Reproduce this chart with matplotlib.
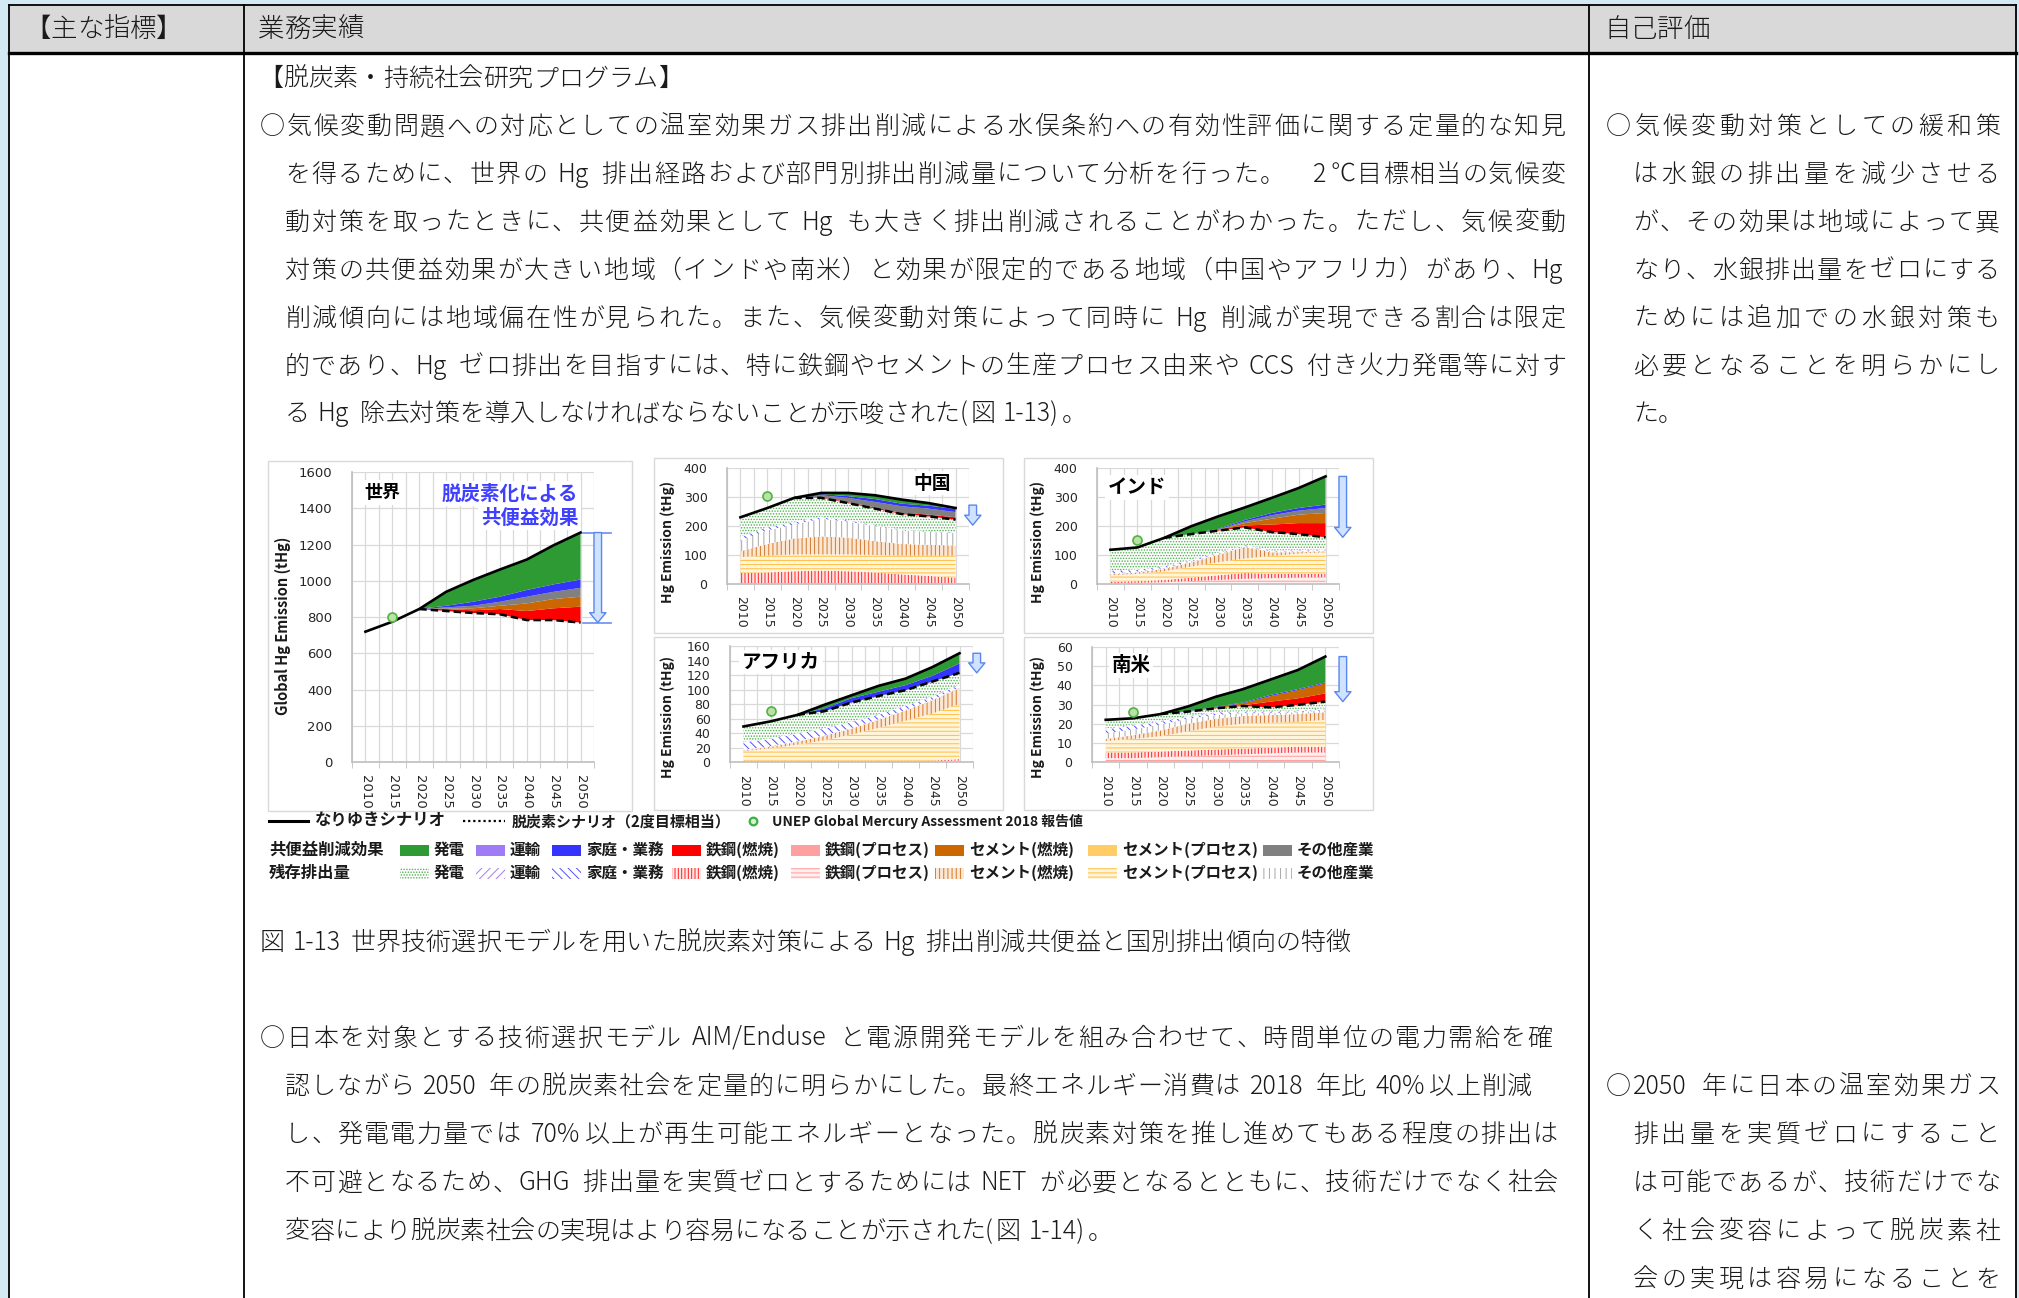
import re
import numpy as np
import matplotlib
matplotlib.use('Agg')
import matplotlib.pyplot as plt
from matplotlib.patches import Rectangle, FancyArrowPatch
from matplotlib.font_manager import FontProperties

plt.rcParams['font.family'] = ['Noto Sans CJK JP', 'DejaVu Sans']
plt.rcParams['hatch.linewidth'] = 0.7

W, H, DPI = 2019, 1298, 100

# ---------------- data (tHg) ----------------
years = [2010, 2015, 2020, 2025, 2030, 2035, 2040, 2045, 2050]
unep_year = 2015

world_bau = [719, 774, 844, 939, 1004, 1062, 1117, 1196, 1266]
world_2deg = [719, 774, 844, 833, 822, 815, 783, 783, 769]
world_unep = 800
world_cobenefit = {
    '鉄鋼(燃焼)': [0, 0, 0, 11, 15, 29, 50, 65, 88],
    'セメント(燃焼)': [0, 0, 0, 2, 11, 18, 42, 51, 55],
    'その他産業': [0, 0, 0, 7, 14, 22, 37, 40, 49],
    '家庭・業務': [0, 0, 0, 9, 22, 28, 37, 41, 46],
}

china_bau = [230, 262, 297, 314, 314, 306, 291, 279, 262]
china_2deg = [230, 262, 297, 297, 279, 260, 241, 233, 222]
china_unep = 302
china_arrow = [272, 203]
china_cobenefit = {
    '鉄鋼(燃焼)': [0, 0, 0, 2, 3, 4, 4, 6, 8],
    'その他産業': [0, 0, 0, 7, 15, 19, 23, 21, 18],
    '家庭・業務': [0, 0, 0, 4, 6, 10, 9, 10, 11],
}
china_residual = {
    '鉄鋼(プロセス)': [3, 3, 3, 3, 3, 3, 3, 3, 3],
    '鉄鋼(燃焼)': [35, 37, 41, 43, 41, 37, 30, 25, 19],
    'セメント(プロセス)': [55, 58, 58, 56, 58, 60, 65, 70, 75],
    'セメント(燃焼)': [20, 40, 55, 62, 58, 48, 40, 37, 36],
    'その他産業': [37, 47, 48, 61, 55, 52, 47, 45, 43],
    '家庭・業務': [12, 10, 8, 6, 4, 3, 2, 2, 2],
    '運輸': [2, 2, 2, 2, 1, 1, 1, 1, 1],
}

india_bau = [118, 126, 159, 199, 233, 264, 297, 331, 371]
india_2deg = [118, 126, 159, 172, 184, 195, 179, 172, 161]
india_unep = 150
india_cobenefit = {
    '鉄鋼(燃焼)': [0, 0, 0, 0, 2, 7, 26, 38, 49],
    'セメント(燃焼)': [0, 0, 0, 0, 1, 8, 20, 29, 35],
    'その他産業': [0, 0, 0, 0, 1, 6, 12, 14, 17],
    '家庭・業務': [0, 0, 0, 1, 2, 5, 8, 9, 12],
}
india_residual = {
    '鉄鋼(プロセス)': [3, 4, 6, 10, 14, 18, 20, 22, 24],
    '鉄鋼(燃焼)': [5, 6, 8, 12, 16, 20, 15, 13, 11],
    'セメント(プロセス)': [22, 25, 30, 38, 45, 50, 62, 70, 75],
    'セメント(燃焼)': [3, 5, 8, 15, 25, 40, 12, 5, 3],
    'その他産業': [3, 3, 3, 3, 3, 3, 3, 3, 3],
    '家庭・業務': [8, 6, 5, 4, 3, 3, 2, 2, 2],
    '運輸': [2, 2, 2, 2, 2, 2, 2, 2, 2],
}

africa_bau = [49, 56, 65, 79, 92, 105, 115, 131, 150]
africa_2deg = [49, 56, 65, 70, 82, 91, 99, 111, 123]
africa_unep = 70
africa_cobenefit = {
    '家庭・業務': [0, 0, 0, 4, 6, 6, 7, 8, 13],
}
africa_residual = {
    '鉄鋼(プロセス)': [1, 1, 1, 1, 1, 1, 1, 1, 2],
    '鉄鋼(燃焼)': [1, 1, 1, 1, 1, 1, 1, 1, 2],
    'セメント(プロセス)': [13, 17, 22, 28, 36, 45, 55, 65, 76],
    'セメント(燃焼)': [1, 2, 4, 6, 8, 11, 14, 18, 22],
    'その他産業': [1, 1, 1, 1, 1, 1, 1, 1, 1],
    '家庭・業務': [10, 10, 10, 9, 8, 6, 5, 4, 3],
    '運輸': [1, 1, 1, 1, 1, 1, 1, 1, 1],
}

samerica_bau = [22, 22.8, 25, 29, 34, 38, 43, 48, 55]
samerica_2deg = [22, 22.8, 25, 26.3, 28, 29.2, 28.5, 29.8, 31.5]
samerica_unep = 26
samerica_cobenefit = {
    '鉄鋼(燃焼)': [0, 0, 0, 0, 0.3, 0.4, 3.0, 3.4, 4.3],
    'セメント(燃焼)': [0, 0, 0, 0, 0.2, 1.0, 2.9, 4.3, 5.2],
    '家庭・業務': [0, 0, 0, 0.2, 0.3, 0.4, 0.6, 0.5, 0.5],
}
samerica_residual = {
    '鉄鋼(プロセス)': [2, 2, 2.5, 3, 3.5, 4, 4.5, 5, 5],
    '鉄鋼(燃焼)': [3, 3, 3, 3, 3, 3, 3, 3, 3],
    'セメント(プロセス)': [6, 7, 8, 10, 12, 13, 13, 13, 14],
    'セメント(燃焼)': [1, 2, 3, 4, 4, 4, 4, 4, 4],
    'その他産業': [3, 3, 3, 2.5, 2, 1.5, 1, 1, 1],
    '家庭・業務': [2, 2, 1.5, 1, 1, 0.5, 0.5, 0.5, 0.5],
    '運輸': [0.5, 0.5, 0.5, 0.5, 0.5, 0.5, 0.5, 0.5, 0.5],
}

sectors = ['発電', '運輸', '家庭・業務', '鉄鋼(燃焼)', '鉄鋼(プロセス)',
           'セメント(燃焼)', 'セメント(プロセス)', 'その他産業']
solid_colors = ['#2e9a34', '#9f7cf5', '#3434ff', '#ff0000', '#ffa0a0',
                '#cc6600', '#ffcc66', '#808080']
hatches = ['......', '////', '\\\\\\\\', '|||||', '----', '||||', '----', '|||']
hatch_colors = ['#4fb04f', '#9f7cf5', '#5050ff', '#ff2020', '#ff9a9a',
                '#d2782a', '#ffbf40', '#a6a6a6']
hatch_faces = ['white', 'white', 'white', '#ffe6e6', '#fff0f0',
               '#fbe7d4', '#fff4dc', 'white']
residual_order = ['鉄鋼(プロセス)', '鉄鋼(燃焼)', 'セメント(プロセス)', 'セメント(燃焼)',
                  'その他産業', '家庭・業務', '運輸']
cobenefit_order = ['鉄鋼(燃焼)', '鉄鋼(プロセス)', 'セメント(燃焼)', 'セメント(プロセス)',
                   'その他産業', '家庭・業務', '運輸']

# ---------------- document text ----------------
header_texts = ['【主な指標】', '業務実績', '自己評価']
program_title = '【脱炭素・持続社会研究プログラム】'
para1 = [
    '○気候変動問題への対応としての温室効果ガス排出削減による水俣条約への有効性評価に関する定量的な知見',
    'を得るために、世界の Hg 排出経路および部門別排出削減量について分析を行った。　2℃目標相当の気候変',
    '動対策を取ったときに、共便益効果として Hg も大きく排出削減されることがわかった。ただし、気候変動',
    '対策の共便益効果が大きい地域（インドや南米）と効果が限定的である地域（中国やアフリカ）があり、Hg',
    '削減傾向には地域偏在性が見られた。また、気候変動対策によって同時に Hg 削減が実現できる割合は限定',
    '的であり、Hg ゼロ排出を目指すには、特に鉄鋼やセメントの生産プロセス由来や CCS 付き火力発電等に対す',
    'る Hg 除去対策を導入しなければならないことが示唆された(図 1-13)。',
]
eval1 = ['○気候変動対策としての緩和策', 'は水銀の排出量を減少させる', 'が、その効果は地域によって異',
         'なり、水銀排出量をゼロにする', 'ためには追加での水銀対策も', '必要となることを明らかにし', 'た。']
caption = '図 1-13 世界技術選択モデルを用いた脱炭素対策による Hg 排出削減共便益と国別排出傾向の特徴'
para2 = [
    '○日本を対象とする技術選択モデル AIM/Enduse と電源開発モデルを組み合わせて、時間単位の電力需給を確',
    '認しながら 2050 年の脱炭素社会を定量的に明らかにした。最終エネルギー消費は 2018 年比 40%以上削減',
    'し、発電電力量では 70%以上が再生可能エネルギーとなった。脱炭素対策を推し進めてもある程度の排出は',
    '不可避となるため、GHG 排出量を実質ゼロとするためには NET が必要となるとともに、技術だけでなく社会',
    '変容により脱炭素社会の実現はより容易になることが示された(図 1-14)。',
]
eval2 = ['○2050 年に日本の温室効果ガス', '排出量を実質ゼロにすること', 'は可能であるが、技術だけでな',
         'く社会変容によって脱炭素社', '会の実現は容易になることを']

# ---------------- figure / page ----------------
fig = plt.figure(figsize=(W / DPI, H / DPI), dpi=DPI, facecolor='#d3e9f4')
page = fig.add_axes([0, 0, 1, 1])
page.set_xlim(0, W)
page.set_ylim(H, 0)
page.axis('off')
renderer = fig.canvas.get_renderer()

page.add_patch(Rectangle((9, 5), 2007, H, facecolor='white', edgecolor='none'))
page.add_patch(Rectangle((9, 5), 2007, 48, facecolor='#d9d9d9', edgecolor='none'))
for x in [9, 244, 1589, 2016]:
    page.plot([x, x], [5, H], color='black', lw=1.3)
page.plot([9, 2016], [5, 5], color='black', lw=1.3)
page.plot([9, 2016], [53, 53], color='black', lw=2.4)


def text_line(s, x0, y, x1=None, size=18, color='#1a1a1a', weight='light'):
    """Draw one line of text, optionally justified between x0 and x1 (pixels)."""
    fp = FontProperties(family=['Noto Sans CJK JP', 'DejaVu Sans'], size=size, weight=weight)
    em = size * DPI / 72
    units = re.findall(r'[!-~]+| |.', s)
    widths = []
    for u in units:
        if u == ' ':
            widths.append(0.3 * em)
        elif u.isascii():
            w, _, _ = renderer.get_text_width_height_descent(u, fp, ismath=False)
            widths.append(w + 0.12 * em)
        else:
            widths.append(em)
    gap = 0
    if x1 is not None and len(units) > 1:
        gap = (x1 - x0 - sum(widths)) / (len(units) - 1)
    x = x0
    for u, w in zip(units, widths):
        if u != ' ':
            page.text(x, y, u, fontproperties=fp, color=color, ha='left', va='baseline')
        x += w + gap


# header
text_line(header_texts[0], 24, 37, size=19)
text_line(header_texts[1], 258, 37, size=19)
text_line(header_texts[2], 1604, 37, size=19)

text_line(program_title, 258, 86)
line_y = [125 + 47.9 * i for i in range(7)]
for i, s in enumerate(para1):
    x0 = 260 if i == 0 else 285
    text_line(s, x0, line_y[i] + 9, 1566 if i < 6 else None)
for i, s in enumerate(eval1):
    x0 = 1606 if i == 0 else 1633
    text_line(s, x0, line_y[i] + 9, 2000 if i < 6 else None)

text_line(caption, 260, 950)
p2_y = [1036.5 + 48.3 * i for i in range(6)]
p2_right = [1552, 1532, 1558, 1558, None]
for i, s in enumerate(para2):
    x0 = 260 if i == 0 else 285
    text_line(s, x0, p2_y[i] + 9, p2_right[i])
for i, s in enumerate(eval2):
    x0 = 1606 if i == 0 else 1633
    text_line(s, x0, p2_y[i + 1] + 9, 2000)

# chart frames
for (fx0, fy0, fx1, fy1) in [(268, 461, 632, 811), (654, 458, 1003, 633), (1024, 458, 1373, 633),
                             (654, 637, 1003, 810), (1024, 637, 1373, 810)]:
    page.add_patch(Rectangle((fx0, fy0), fx1 - fx0, fy1 - fy0, facecolor='none',
                             edgecolor='#d9d9d9', lw=1.0))


# ---------------- charts ----------------
def make_chart(box, ymax, ystep, ylabel, label_x, label_y, size, label_size):
    x0, y0, x1, y1 = box
    ax = fig.add_axes([x0 / W, 1 - y1 / H, (x1 - x0) / W, (y1 - y0) / H])
    ax.set_xlim(2007.5, 2052.5)
    ax.set_ylim(0, ymax)
    ax.set_yticks(np.arange(0, ymax + 1, ystep))
    ax.set_xticks(years)
    ax.set_xticklabels([str(y) for y in years], rotation=-90)
    ax.set_xticks(np.arange(2007.5, 2053, 2.5), minor=True)
    ax.set_axisbelow(True)
    ax.grid(True, which='both', axis='x', color='#d9d9d9', lw=0.9)
    ax.grid(True, which='major', axis='y', color='#d9d9d9', lw=0.9)
    ax.tick_params(axis='x', which='major', length=0, pad=9, labelsize=size,
                   labelcolor='#262626', labelfontfamily='DejaVu Sans')
    ax.tick_params(axis='x', which='minor', length=4, color='#bfbfbf')
    ax.tick_params(axis='y', length=0, pad=14, labelsize=size,
                   labelcolor='#262626', labelfontfamily='DejaVu Sans')
    for side in ['top', 'right']:
        ax.spines[side].set_visible(False)
    for side in ['left', 'bottom']:
        ax.spines[side].set_color('#bfbfbf')
        ax.spines[side].set_linewidth(1.2)
    ax.text(label_x, label_y, ylabel, transform=ax.transAxes, rotation=90,
            ha='center', va='center', fontsize=label_size, fontweight='bold', color='#1a1a1a')
    return ax


def draw_region(ax, bau, deg2, cobenefit, residual, unep, arrow_span=None):
    yrs = np.array(years, float)
    bau = np.array(bau, float)
    deg2 = np.array(deg2, float)
    if residual is not None:
        base = np.zeros(len(yrs))
        for name in residual_order:
            if name in residual:
                k = sectors.index(name)
                top = base + np.array(residual[name], float)
                ax.fill_between(yrs, base, top, facecolor=hatch_faces[k],
                                edgecolor=hatch_colors[k], hatch=hatches[k], linewidth=0)
                base = top
        ax.fill_between(yrs, base, deg2, facecolor=hatch_faces[0],
                        edgecolor=hatch_colors[0], hatch=hatches[0], linewidth=0)
    base = deg2.copy()
    for name in cobenefit_order:
        if name in cobenefit:
            k = sectors.index(name)
            top = base + np.array(cobenefit[name], float)
            ax.fill_between(yrs, base, top, facecolor=solid_colors[k], linewidth=0)
            base = top
    ax.fill_between(yrs, base, bau, facecolor=solid_colors[0], linewidth=0)
    ax.plot(yrs[2:], deg2[2:], color='black', lw=1.8, linestyle=(0, (3, 1.6)))
    ax.plot(yrs, bau, color='black', lw=1.9)
    ax.plot([unep_year], [unep], 'o', ms=6.5, mfc='#b9e3a6', mec='#55b045', mew=1.2)
    a_top, a_bot = (bau[-1], deg2[-1]) if arrow_span is None else arrow_span
    arrow = FancyArrowPatch((2053.2, a_top), (2053.2, a_bot),
                            arrowstyle='simple,head_width=0.9,head_length=0.55,tail_width=0.42',
                            mutation_scale=13, facecolor='#cfe3ff', edgecolor='#5b86f0',
                            lw=1.0, clip_on=False, shrinkA=0, shrinkB=0, zorder=5)
    ax.add_patch(arrow)
    return bau, deg2


title_kw = dict(fontweight='bold', color='black', va='center',
                bbox=dict(facecolor='white', edgecolor='none', pad=2))

ax_w = make_chart((352, 472, 594, 762), 1600, 200, 'Global Hg Emission (tHg)', -0.285, 0.47, 9.5, 10.5)
bau_w, deg_w = draw_region(ax_w, world_bau, world_2deg, world_cobenefit, None, world_unep)
for yv in [bau_w[-1], deg_w[-1]]:
    ax_w.plot([2050.5, 2055.6], [yv, yv], color='#6a8ff0', lw=1.2, clip_on=False)
ax_w.text(0.05, 0.93, '世界', transform=ax_w.transAxes, ha='left', fontsize=13, **title_kw)
blue_kw = dict(title_kw)
blue_kw['color'] = '#3f3fff'
ax_w.text(0.935, 0.925, '脱炭素化による', transform=ax_w.transAxes, ha='right', fontsize=14, **blue_kw)
ax_w.text(0.935, 0.842, '共便益効果', transform=ax_w.transAxes, ha='right', fontsize=14, **blue_kw)

ax_c = make_chart((727, 468, 969, 584), 400, 100, 'Hg Emission (tHg)', -0.244, 0.36, 9, 10)
draw_region(ax_c, china_bau, china_2deg, china_cobenefit, china_residual, china_unep, china_arrow)
ax_c.text(0.77, 0.87, '中国', transform=ax_c.transAxes, ha='left', fontsize=13.5, **title_kw)

ax_i = make_chart((1097, 468, 1339, 584), 400, 100, 'Hg Emission (tHg)', -0.244, 0.36, 9, 10)
draw_region(ax_i, india_bau, india_2deg, india_cobenefit, india_residual, india_unep)
ax_i.text(0.045, 0.83, 'インド', transform=ax_i.transAxes, ha='left', fontsize=14, **title_kw)

ax_a = make_chart((730, 646, 973, 762), 160, 20, 'Hg Emission (tHg)', -0.255, 0.39, 9, 10)
draw_region(ax_a, africa_bau, africa_2deg, africa_cobenefit, africa_residual, africa_unep)
ax_a.text(0.05, 0.86, 'アフリカ', transform=ax_a.transAxes, ha='left', fontsize=14, **title_kw)

ax_s = make_chart((1092, 647, 1339, 762), 60, 10, 'Hg Emission (tHg)', -0.219, 0.39, 9, 10)
draw_region(ax_s, samerica_bau, samerica_2deg, samerica_cobenefit, samerica_residual, samerica_unep)
ax_s.text(0.08, 0.84, '南米', transform=ax_s.transAxes, ha='left', fontsize=14, **title_kw)

# ---------------- figure legend ----------------
leg_kw = dict(fontsize=11.2, fontweight='bold', color='#1a1a1a', va='center', ha='left')
page.plot([269, 308], [821, 821], color='black', lw=2.2)
page.text(315, 821, 'なりゆきシナリオ', **dict(leg_kw, fontsize=11.8))
page.plot([463, 505], [821, 821], color='black', lw=1.6, linestyle=(0, (1, 1.3)))
page.text(512, 821, '脱炭素シナリオ（2度目標相当）', **dict(leg_kw, fontsize=10.8))
page.plot([753], [821], 'o', ms=5.5, mfc='#d8f0cc', mec='#3fae49', mew=1.6)
page.text(772, 821, 'UNEP Global Mercury Assessment 2018 報告値', **dict(leg_kw, fontsize=10))

patch_x = [400, 476, 552, 672, 791, 935, 1088, 1263]
page.text(269, 850, '共便益削減効果', **dict(leg_kw, fontsize=11.8))
page.text(269, 873, '残存排出量', **dict(leg_kw, fontsize=11.8))
for k, name in enumerate(sectors):
    px = patch_x[k]
    page.add_patch(Rectangle((px, 844.5), 29, 11, facecolor=solid_colors[k], edgecolor='none'))
    page.add_patch(Rectangle((px, 867.5), 29, 11, facecolor=hatch_faces[k],
                             edgecolor=hatch_colors[k], hatch=hatches[k], lw=0))
    page.text(px + 34, 850, name, **leg_kw)
    page.text(px + 34, 873, name, **leg_kw)

fig.savefig('out.png', dpi=DPI, facecolor=fig.get_facecolor())
